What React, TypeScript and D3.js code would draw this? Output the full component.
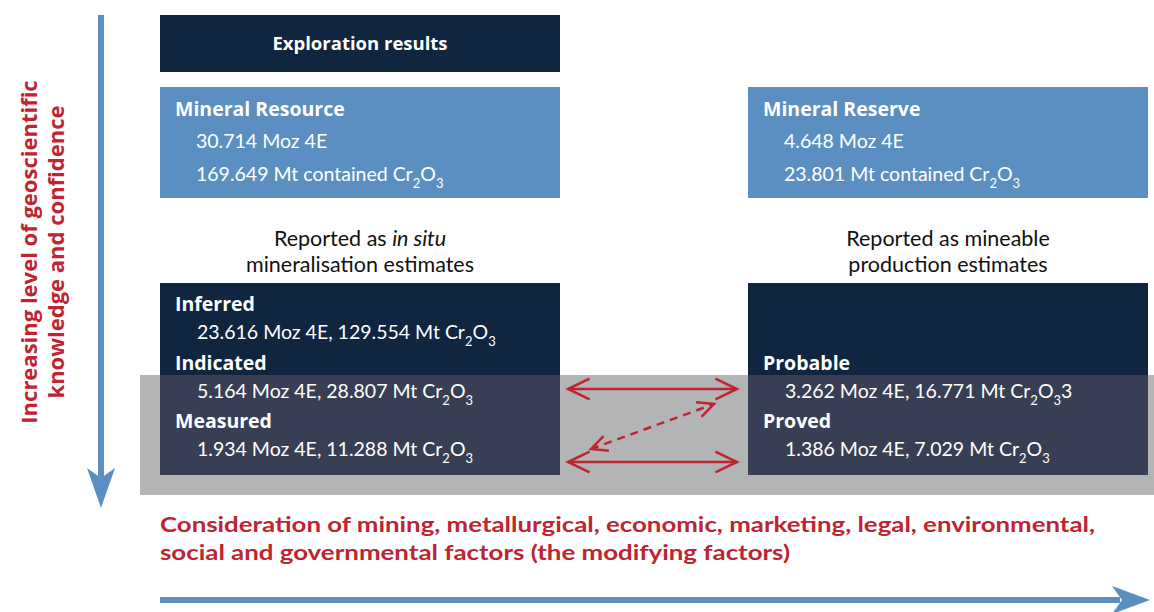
import * as d3 from 'd3'

const W = 1154
const H = 612

const navy = '#0f2540'
const blue = '#5b8fc1'
const band = '#b3b4b6'
const overlay = '#383f55'
const red = '#be2530'
const font = 'Lato, "Open Sans", sans-serif'
const boldFont = '"Open Sans", Lato, sans-serif'

// data
const resourceLines = ['30.714 Moz 4E', '169.649 Mt contained ']
const reserveLines = ['4.648 Moz 4E', '23.801 Mt contained ']
const resourceClasses = ['Inferred', 'Indicated', 'Measured']
const resourceMoz = ['23.616', '5.164', '1.934']
const resourceMt = ['129.554', '28.807', '11.288']
const reserveClasses = ['', 'Probable', 'Proved']
const reserveMoz = ['', '3.262', '1.386']
const reserveMt = ['', '16.771', '7.029']
const reserveSuffix = ['', '3', '']
const sideTitle = ['Increasing level of geoscientific', 'knowledge and confidence']
const factorsText = [
  'Consideration of mining, metallurgical, economic, marketing, legal, environmental,',
  'social and governmental factors (the modifying factors)',
]

// layout scales
const col = d3.scaleOrdinal<string, number>().domain(['left', 'right']).range([160, 748])
const boxW = 400
const row = d3.scaleLinear().domain([0, 1, 2]).range([311, 370, 428])

function Cr2O3({ suffix = '' }: { suffix?: string }) {
  return (
    <>
      <tspan>Cr</tspan>
      <tspan fontSize={13} dy={7}>2</tspan>
      <tspan dy={-7}>O</tspan>
      <tspan fontSize={13} dy={7}>3</tspan>
      <tspan dy={-7}>{suffix}</tspan>
    </>
  )
}

function ClassBox({ x, names, moz, mt, suffix }: { x: number; names: string[]; moz: string[]; mt: string[]; suffix?: string[] }) {
  return (
    <g>
      <rect x={x} y={283} width={boxW} height={192} fill={navy} />
      <rect x={x} y={375} width={boxW} height={100} fill={overlay} />
      {names.map((n, i) =>
        n ? (
          <g key={n}>
            <text x={x + 15} y={row(i)} fill="#fff" fontWeight="bold" fontSize={19.5} fontFamily={boldFont}>
              {n}
            </text>
            <text x={x + 37} y={row(i) + 28} fill="#fff" fontSize={19.5}>
              {moz[i]} Moz 4E, {mt[i]} Mt <Cr2O3 suffix={suffix ? suffix[i] : ''} />
            </text>
          </g>
        ) : null
      )}
    </g>
  )
}

function ArrowHead({ x, y, angle, size = 14 }: { x: number; y: number; angle: number; size?: number }) {
  const a = (angle * Math.PI) / 180
  const spread = 0.45
  const p1 = [x - size * Math.cos(a - spread), y - size * Math.sin(a - spread)]
  const p2 = [x - size * Math.cos(a + spread), y - size * Math.sin(a + spread)]
  const line = d3.line()
  return <path d={line([p1 as [number, number], [x, y], p2 as [number, number]]) || ''} fill="none" stroke={red} strokeWidth={2.5} />
}

function DoubleArrow({ x1, y1, x2, y2, dashed }: { x1: number; y1: number; x2: number; y2: number; dashed?: boolean }) {
  const ang = (Math.atan2(y2 - y1, x2 - x1) * 180) / Math.PI
  return (
    <g>
      <line x1={x1} y1={y1} x2={x2} y2={y2} stroke={red} strokeWidth={2.5} strokeDasharray={dashed ? '8 6' : undefined} />
      <ArrowHead x={x2} y={y2} angle={ang} size={dashed ? 18 : 24} />
      <ArrowHead x={x1} y={y1} angle={ang + 180} size={dashed ? 18 : 24} />
    </g>
  )
}

export default function App() {
  const left = col('left')
  const right = col('right')
  return (
    <svg width={W} height={H} style={{ position: 'absolute', left: 0, top: 0 }} fontFamily={font}>
      <rect width={W} height={H} fill="#fff" />

      {/* grey confidence band */}
      <rect x={140} y={375} width={W - 140} height={120} fill={band} />

      {/* vertical arrow */}
      <line x1={101} y1={15} x2={101} y2={480} stroke={blue} strokeWidth={6} />
      <path d="M87,468 L101,508 L115,468 L101,478 Z" fill={blue} />

      {/* side title */}
      <g transform="translate(0,252) rotate(-90)">
        {sideTitle.map((t, i) => (
          <text key={t} x={0} y={37 + i * 27} textAnchor="middle" fill={red} fontWeight="bold" fontSize={22} fontFamily={boldFont}>
            {t}
          </text>
        ))}
      </g>

      {/* exploration results */}
      <rect x={left} y={15} width={boxW} height={57} fill={navy} />
      <text x={left + boxW / 2} y={50} textAnchor="middle" fill="#fff" fontWeight="bold" fontSize={18.5} fontFamily={boldFont}>
        Exploration results
      </text>

      {/* resource / reserve */}
      {[
        { x: left, title: 'Mineral Resource', lines: resourceLines },
        { x: right, title: 'Mineral Reserve', lines: reserveLines },
      ].map((b) => (
        <g key={b.title}>
          <rect x={b.x} y={87} width={boxW} height={111} fill={blue} />
          <text x={b.x + 15} y={116} fill="#fff" fontWeight="bold" fontSize={19.5} fontFamily={boldFont}>
            {b.title}
          </text>
          <text x={b.x + 36} y={148} fill="#fff" fontSize={19.5}>
            {b.lines[0]}
          </text>
          <text x={b.x + 36} y={181} fill="#fff" fontSize={19.5}>
            {b.lines[1]}
            <Cr2O3 />
          </text>
        </g>
      ))}

      {/* reported as */}
      <text x={left + boxW / 2} y={246} textAnchor="middle" fontSize={21.5} fill="#111">
        Reported as <tspan fontStyle="italic">in situ</tspan>
      </text>
      <text x={left + boxW / 2} y={272} textAnchor="middle" fontSize={21.5} fill="#111">
        mineralisation estimates
      </text>
      <text x={right + boxW / 2} y={246} textAnchor="middle" fontSize={21.5} fill="#111">
        Reported as mineable
      </text>
      <text x={right + boxW / 2} y={272} textAnchor="middle" fontSize={21.5} fill="#111">
        production estimates
      </text>

      <ClassBox x={left} names={resourceClasses} moz={resourceMoz} mt={resourceMt} />
      <ClassBox x={right} names={reserveClasses} moz={reserveMoz} mt={reserveMt} suffix={reserveSuffix} />

      {/* conversion arrows */}
      <DoubleArrow x1={568} y1={389} x2={737} y2={389} />
      <DoubleArrow x1={568} y1={462} x2={737} y2={462} />
      <DoubleArrow x1={591} y1={449} x2={714} y2={404} dashed />

      {/* modifying factors */}
      {factorsText.map((t, i) => (
        <text
          key={t}
          x={160}
          y={532 + i * 28}
          fill={red}
          fontWeight="bold"
          fontSize={21}
          textLength={i === 0 ? 935 : 630}
          lengthAdjust="spacingAndGlyphs"
        >
          {t}
        </text>
      ))}

      {/* horizontal arrow */}
      <line x1={160} y1={600} x2={1120} y2={600} stroke={blue} strokeWidth={6} />
      <path d="M1112,586 L1150,600 L1112,614 L1122,600 Z" fill={blue} />
    </svg>
  )
}
